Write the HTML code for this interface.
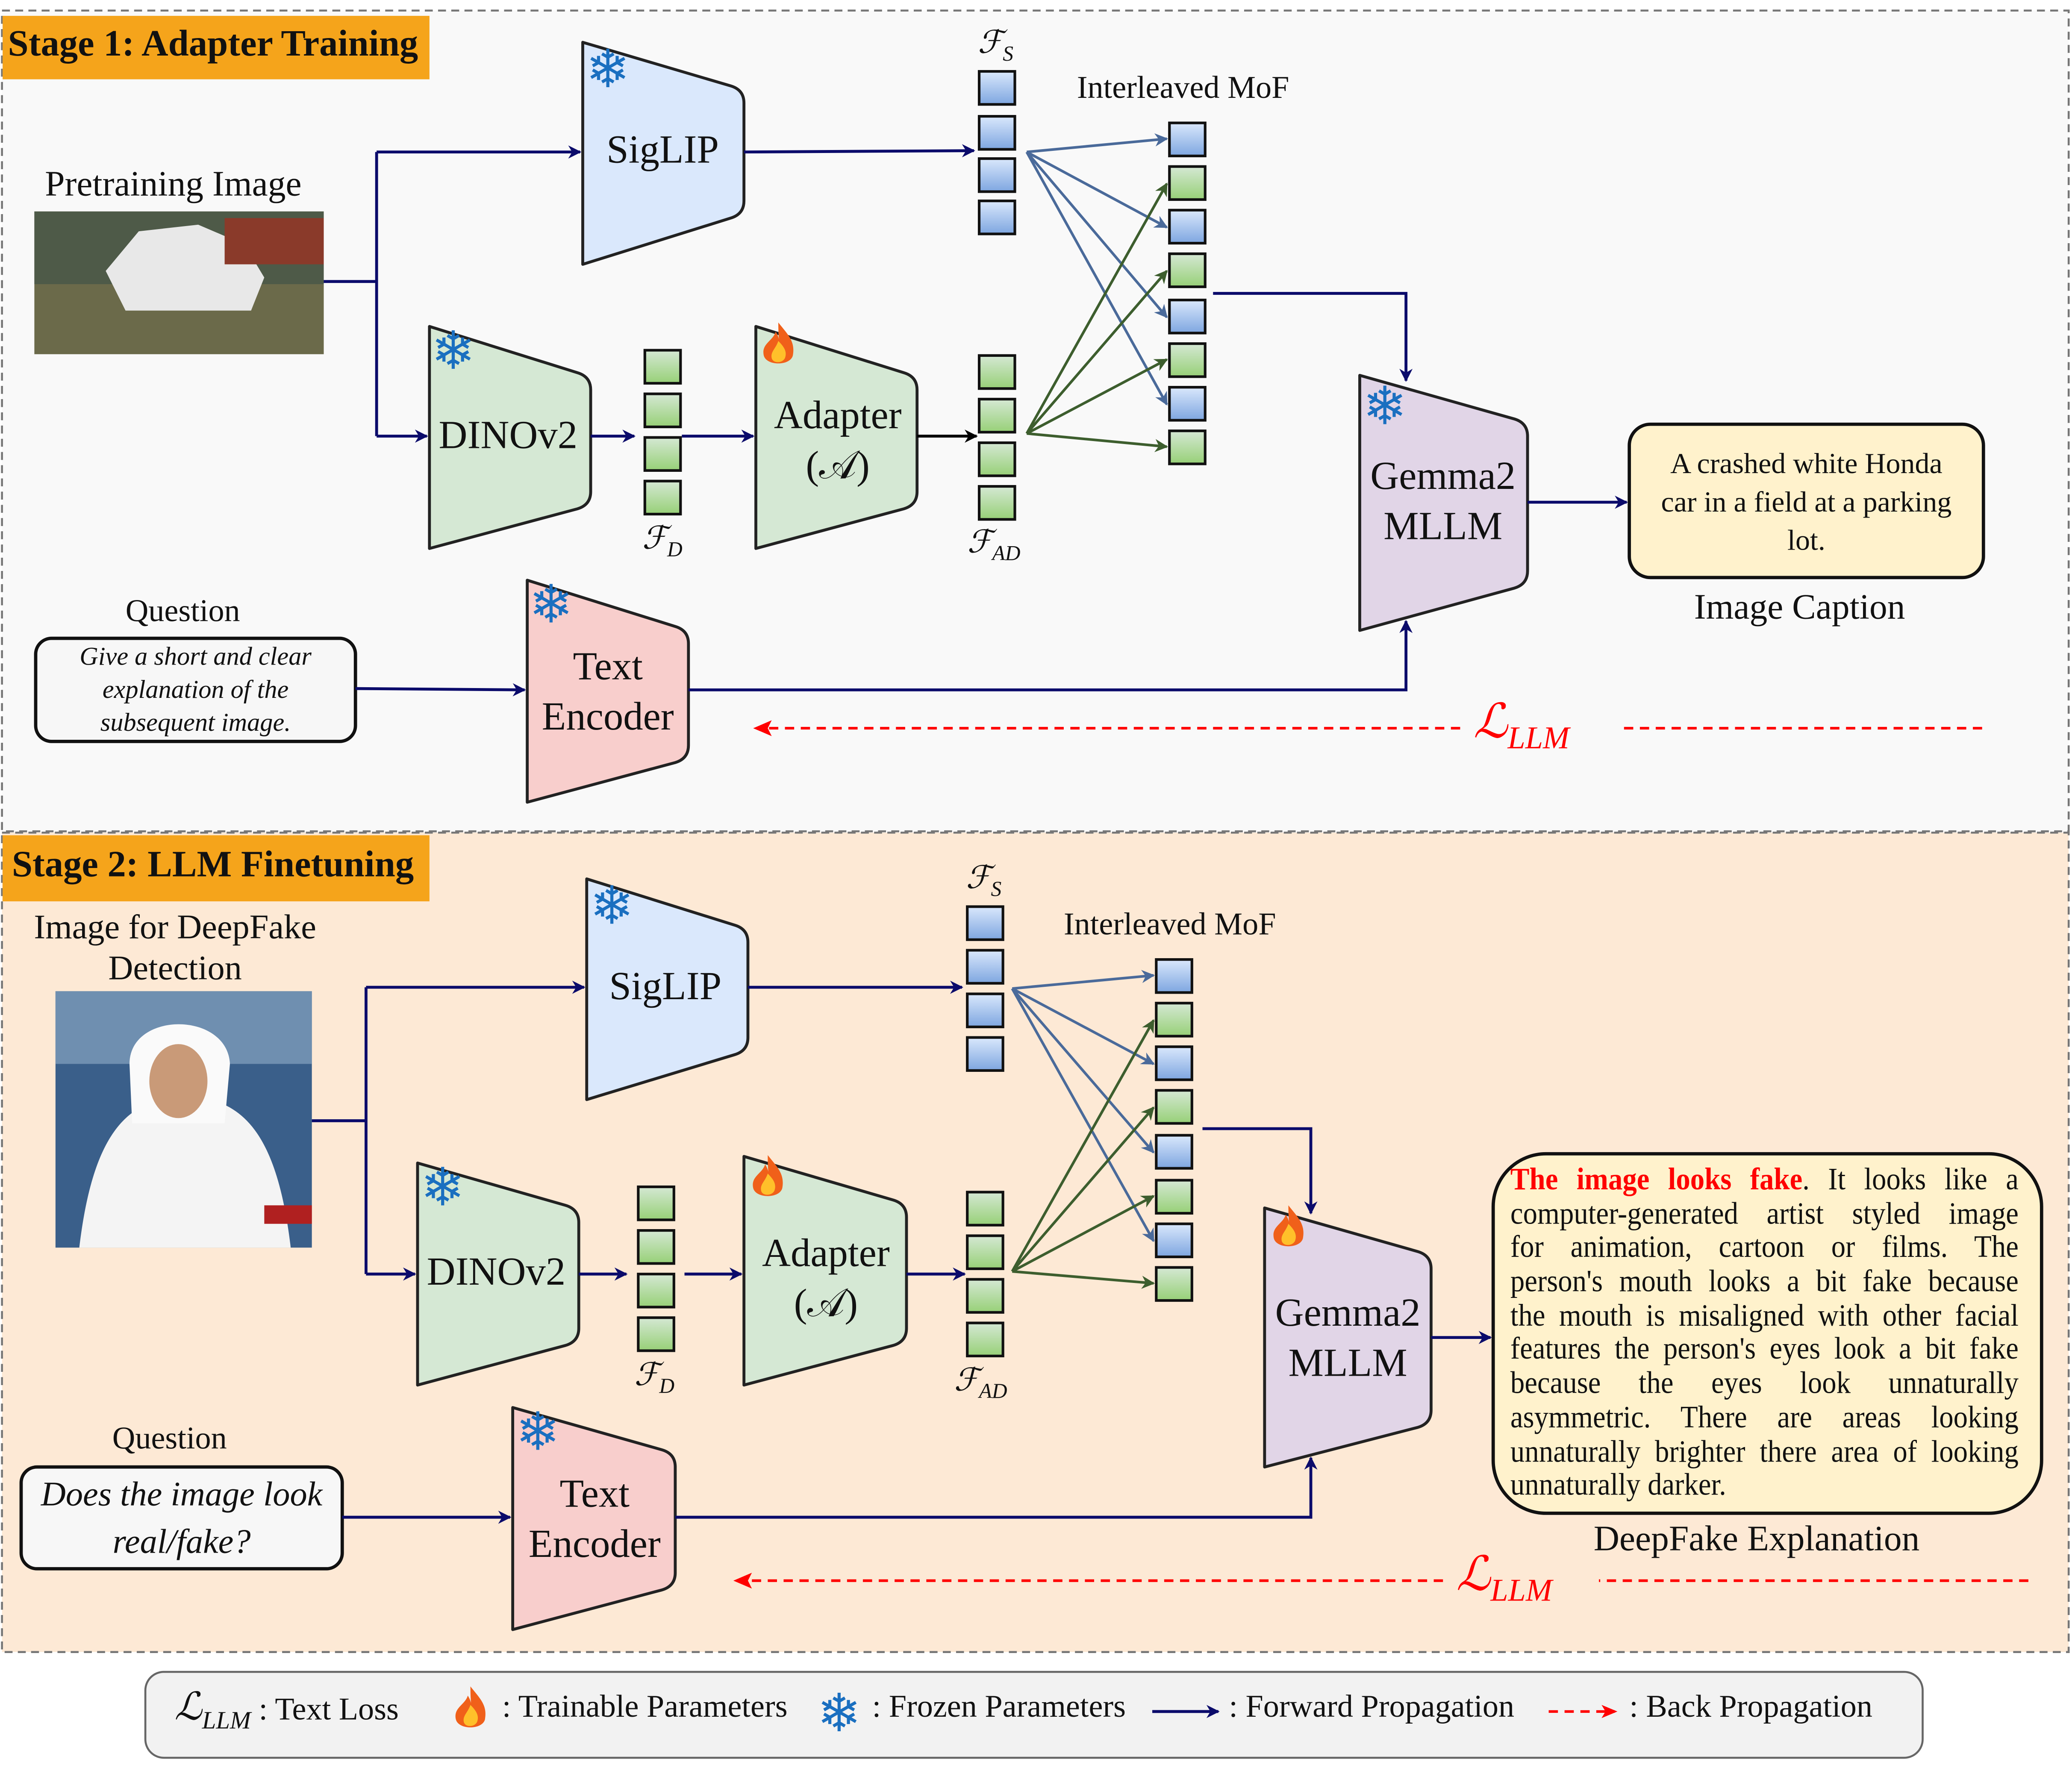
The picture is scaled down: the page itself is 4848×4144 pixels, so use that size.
<!DOCTYPE html>
<html><head><meta charset="utf-8"><style>
html,body{margin:0;padding:0;background:#fff;}
#wrap{width:4848px;height:4144px;overflow:hidden;position:relative;}
#c{position:absolute;left:0;top:0;width:1568px;height:1340px;transform:scale(3.0918,3.0925);transform-origin:0 0;font-family:"Liberation Serif",serif;}
.t{position:absolute;white-space:nowrap;color:#111;}
svg text{font-family:"DejaVu Sans",sans-serif;}
.ex{position:absolute;left:1143px;top:881px;width:418px;font-size:23.5px;line-height:25.7px;transform:scaleX(0.92);transform-origin:0 0;color:#111;}
.ex div{text-align:justify;text-align-last:justify;white-space:nowrap;height:25.7px;}
</style></head><body><div id="wrap"><div id="c">
<svg width="1568" height="1340" viewBox="0 0 1568 1340" xmlns="http://www.w3.org/2000/svg">
<defs>
<marker id="an" markerWidth="10" markerHeight="10" refX="9" refY="5" orient="auto" markerUnits="userSpaceOnUse"><path d="M0,0 L10,5 L0,10 L3,5z" fill="#0b0b6b"/></marker>
<marker id="ak" markerWidth="10" markerHeight="10" refX="9" refY="5" orient="auto" markerUnits="userSpaceOnUse"><path d="M0,0 L10,5 L0,10 L3,5z" fill="#000"/></marker>
<marker id="ab" markerWidth="10" markerHeight="10" refX="9" refY="5" orient="auto" markerUnits="userSpaceOnUse"><path d="M0,0 L10,5 L0,10 L3,5z" fill="#4a6a9a"/></marker>
<marker id="ag" markerWidth="10" markerHeight="10" refX="9" refY="5" orient="auto" markerUnits="userSpaceOnUse"><path d="M0,0 L10,5 L0,10 L3,5z" fill="#3d5e2e"/></marker>
<marker id="ar" markerWidth="12" markerHeight="10" refX="10" refY="5" orient="auto" markerUnits="userSpaceOnUse"><path d="M0,0 L12,5 L0,10 L3,5z" fill="#f00"/></marker>
<linearGradient id="gb" x1="0" y1="0" x2="0" y2="1"><stop offset="0" stop-color="#dae8fc"/><stop offset="1" stop-color="#7ea6e0"/></linearGradient>
<linearGradient id="gg" x1="0" y1="0" x2="0" y2="1"><stop offset="0" stop-color="#d5e8d4"/><stop offset="1" stop-color="#97d077"/></linearGradient>
<g id="flame"><path d="M0,-18 C7,-9 13,-4 11,7 C9,15 -9,15 -11,7 C-13,-2 -4,-4 -2,-11 C2,-5 0,0 0,-18z" fill="#f0601a"/><path d="M0,-4 C4,0 7,4 5,9 C3,13 -4,13 -5,9 C-6,4 -2,2 0,-4z" fill="#ffc02a"/></g>
</defs>
<rect x="1.5" y="8" width="1564" height="621" fill="#f9f9f9" stroke="#777" stroke-width="1.5" stroke-dasharray="6,4"/>
<rect x="1.5" y="630" width="1564" height="620" fill="#fde9d5" stroke="#777" stroke-width="1.5" stroke-dasharray="6,4"/>
<rect x="2" y="12" width="323" height="48" fill="#f5a41b"/>
<rect x="2" y="632" width="323" height="50" fill="#f5a41b"/>
<rect x="110" y="1265" width="1345" height="65" rx="14" fill="#f2f2f2" stroke="#666" stroke-width="1.5"/>

<rect x="26" y="160" width="219" height="108" fill="#6b6a4a"/>
<rect x="26" y="160" width="219" height="55" fill="#4e5a48"/>
<path d="M80,205 L105,175 L150,170 L185,185 L200,210 L190,235 L95,235z" fill="#e8e8e8"/>
<rect x="170" y="165" width="75" height="35" fill="#8a3a2a"/>
<rect x="42" y="750" width="194" height="194" fill="#3a5f8a"/>
<rect x="42" y="750" width="194" height="55" fill="#6f8fb0"/>
<path d="M60,944 C70,860 95,830 140,830 C185,830 210,860 220,944z" fill="#f4f4f4"/>
<path d="M98,805 C98,765 172,765 174,805 L170,850 L100,850z" fill="#fafafa"/>
<ellipse cx="135" cy="818" rx="22" ry="28" fill="#c99a78"/>
<rect x="200" y="912" width="36" height="14" fill="#b02020"/>

<g stroke="#222" stroke-width="2.2" stroke-linejoin="round">
<path d="M441,32 L553,65 Q563,68 563,78 L563,152 Q563,162 553,165 L441,200 Z" fill="#dae8fc"/>
<path d="M325,247 L437,282 Q447,285 447,295 L447,372 Q447,382 437,385 L325,415 Z" fill="#d5e8d4"/>
<path d="M572,247 L684,282 Q694,285 694,295 L694,372 Q694,382 684,385 L572,415 Z" fill="#d5e8d4"/>
<path d="M399,439 L511,474 Q521,477 521,487 L521,564 Q521,574 511,577 L399,607 Z" fill="#f8cecc"/>
<path d="M1029,284 L1146,317 Q1156,320 1156,330 L1156,432 Q1156,442 1146,445 L1029,477 Z" fill="#e1d5e7"/>
<path d="M444,665 L556,700 Q566,703 566,713 L566,785 Q566,795 556,798 L444,832 Z" fill="#dae8fc"/>
<path d="M316,880 L428,912 Q438,915 438,925 L438,1005 Q438,1015 428,1018 L316,1048 Z" fill="#d5e8d4"/>
<path d="M563,875 L676,908 Q686,911 686,921 L686,1005 Q686,1015 676,1018 L563,1048 Z" fill="#d5e8d4"/>
<path d="M388,1065 L501,1097 Q511,1100 511,1110 L511,1190 Q511,1200 501,1203 L388,1233 Z" fill="#f8cecc"/>
<path d="M957,914 L1073,947 Q1083,950 1083,960 L1083,1067 Q1083,1077 1073,1080 L957,1110 Z" fill="#e1d5e7"/>
</g>
<g stroke="#111" stroke-width="2.5">
<rect x="1233" y="321" width="268" height="116" rx="16" fill="#fff2cc"/>
<rect x="27" y="483" width="242" height="78" rx="12" fill="#f7f7f7"/>
<rect x="16" y="1110" width="243" height="77" rx="12" fill="#f7f7f7"/>
<rect x="1130" y="873" width="415" height="272" rx="40" fill="#fff2cc"/>
</g>

<g stroke="#111" stroke-width="2">
<rect x="741" y="54" width="27" height="25" fill="url(#gb)"/><rect x="741" y="88" width="27" height="25" fill="url(#gb)"/><rect x="741" y="120" width="27" height="25" fill="url(#gb)"/><rect x="741" y="152" width="27" height="25" fill="url(#gb)"/>
<rect x="488" y="265" width="27" height="25" fill="url(#gg)"/><rect x="488" y="298" width="27" height="25" fill="url(#gg)"/><rect x="488" y="331" width="27" height="25" fill="url(#gg)"/><rect x="488" y="364" width="27" height="25" fill="url(#gg)"/>
<rect x="741" y="269" width="27" height="25" fill="url(#gg)"/><rect x="741" y="302" width="27" height="25" fill="url(#gg)"/><rect x="741" y="335" width="27" height="25" fill="url(#gg)"/><rect x="741" y="368" width="27" height="25" fill="url(#gg)"/>
<rect x="885" y="93" width="27" height="25" fill="url(#gb)"/><rect x="885" y="126" width="27" height="25" fill="url(#gg)"/><rect x="885" y="159" width="27" height="25" fill="url(#gb)"/><rect x="885" y="192" width="27" height="25" fill="url(#gg)"/><rect x="885" y="227" width="27" height="25" fill="url(#gb)"/><rect x="885" y="260" width="27" height="25" fill="url(#gg)"/><rect x="885" y="293" width="27" height="25" fill="url(#gb)"/><rect x="885" y="326" width="27" height="25" fill="url(#gg)"/>
<rect x="732" y="686" width="27" height="25" fill="url(#gb)"/><rect x="732" y="719" width="27" height="25" fill="url(#gb)"/><rect x="732" y="752" width="27" height="25" fill="url(#gb)"/><rect x="732" y="785" width="27" height="25" fill="url(#gb)"/>
<rect x="483" y="898" width="27" height="25" fill="url(#gg)"/><rect x="483" y="931" width="27" height="25" fill="url(#gg)"/><rect x="483" y="964" width="27" height="25" fill="url(#gg)"/><rect x="483" y="997" width="27" height="25" fill="url(#gg)"/>
<rect x="732" y="902" width="27" height="25" fill="url(#gg)"/><rect x="732" y="935" width="27" height="25" fill="url(#gg)"/><rect x="732" y="968" width="27" height="25" fill="url(#gg)"/><rect x="732" y="1001" width="27" height="25" fill="url(#gg)"/>
<rect x="875" y="726" width="27" height="25" fill="url(#gb)"/><rect x="875" y="759" width="27" height="25" fill="url(#gg)"/><rect x="875" y="792" width="27" height="25" fill="url(#gb)"/><rect x="875" y="825" width="27" height="25" fill="url(#gg)"/><rect x="875" y="859" width="27" height="25" fill="url(#gb)"/><rect x="875" y="893" width="27" height="25" fill="url(#gg)"/><rect x="875" y="926" width="27" height="25" fill="url(#gb)"/><rect x="875" y="959" width="27" height="25" fill="url(#gg)"/>
</g>

<g fill="none" stroke="#0b0b6b" stroke-width="2.2">
<path d="M245,213 H285"/><path d="M285,115 V330"/>
<path d="M285,115 H439" marker-end="url(#an)"/><path d="M285,330 H323" marker-end="url(#an)"/>
<path d="M563,115 L737,114" marker-end="url(#an)"/>
<path d="M447,330 H480" marker-end="url(#an)"/>
<path d="M516,330 H570" marker-end="url(#an)"/>
<path d="M918,222 H1064 V288" marker-end="url(#an)"/>
<path d="M521,522 H1064 V470" marker-end="url(#an)"/>
<path d="M269,521 L397,522" marker-end="url(#an)"/>
<path d="M1156,380 H1231" marker-end="url(#an)"/>
<path d="M236,848 H277"/><path d="M277,747 V964"/>
<path d="M277,747 H442" marker-end="url(#an)"/><path d="M277,964 H314" marker-end="url(#an)"/>
<path d="M566,747 H728" marker-end="url(#an)"/>
<path d="M438,964 H474" marker-end="url(#an)"/>
<path d="M518,964 H561" marker-end="url(#an)"/>
<path d="M686,964 H730" marker-end="url(#an)"/>
<path d="M910,854 H992 V918" marker-end="url(#an)"/>
<path d="M511,1148 H992 V1103" marker-end="url(#an)"/>
<path d="M259,1148 L386,1148" marker-end="url(#an)"/>
<path d="M1083,1012 H1128" marker-end="url(#an)"/>
<path d="M872,1295 H922" marker-end="url(#an)"/>
</g>
<path d="M694,330 H739" stroke="#000" stroke-width="2.2" fill="none" marker-end="url(#ak)"/>
<g fill="none" stroke="#4a6a9a" stroke-width="2">
<path d="M777,115 L883,105" marker-end="url(#ab)"/><path d="M777,115 L883,172" marker-end="url(#ab)"/><path d="M777,115 L883,240" marker-end="url(#ab)"/><path d="M777,115 L883,306" marker-end="url(#ab)"/>
<path d="M766,748 L873,738" marker-end="url(#ab)"/><path d="M766,748 L873,805" marker-end="url(#ab)"/><path d="M766,748 L873,872" marker-end="url(#ab)"/><path d="M766,748 L873,939" marker-end="url(#ab)"/>
</g>
<g fill="none" stroke="#3d5e2e" stroke-width="2">
<path d="M777,328 L883,139" marker-end="url(#ag)"/><path d="M777,328 L883,205" marker-end="url(#ag)"/><path d="M777,328 L883,272" marker-end="url(#ag)"/><path d="M777,328 L883,338" marker-end="url(#ag)"/>
<path d="M766,962 L873,772" marker-end="url(#ag)"/><path d="M766,962 L873,838" marker-end="url(#ag)"/><path d="M766,962 L873,905" marker-end="url(#ag)"/><path d="M766,962 L873,971" marker-end="url(#ag)"/>
</g>
<g fill="none" stroke="#f00" stroke-width="2" stroke-dasharray="7,5">
<path d="M1500,551 H1225"/><path d="M1105,551 H575"/>
<path d="M1535,1196 H1210"/><path d="M1092,1196 H560"/>
<path d="M1172,1295 H1222" marker-end="url(#ar)"/>
</g>
<path d="M570,551 L584,545 L581,551 L584,557z" fill="#f00"/>
<path d="M555,1196 L569,1190 L566,1196 L569,1202z" fill="#f00"/>

<g fill="#1a6fc0" font-size="40" text-anchor="middle">
<text x="460" y="66">❄</text><text x="343" y="279">❄</text><text x="417" y="471">❄</text><text x="1048" y="321">❄</text>
<text x="463" y="699">❄</text><text x="335" y="912">❄</text><text x="407" y="1097">❄</text><text x="635" y="1310">❄</text>
</g>
<use href="#flame" x="589" y="262"/><use href="#flame" x="581" y="892"/><use href="#flame" x="975" y="930"/><use href="#flame" x="356" y="1294"/>
</svg>

<div class="t" style="left:6px;top:18px;font-size:28px;font-weight:bold;">Stage 1: Adapter Training</div>
<div class="t" style="left:9px;top:639px;font-size:28px;font-weight:bold;">Stage 2: LLM Finetuning</div>
<div class="t" style="left:34px;top:124px;font-size:27px;">Pretraining Image</div>
<div class="t" style="left:20px;top:686px;font-size:26px;width:225px;text-align:center;white-space:normal;line-height:31px;">Image for DeepFake Detection</div>
<div class="t" style="left:459px;top:97px;font-size:30px;">SigLIP</div>
<div class="t" style="left:461px;top:730px;font-size:30px;">SigLIP</div>
<div class="t" style="left:332px;top:313px;font-size:30px;">DINOv2</div>
<div class="t" style="left:323px;top:946px;font-size:30px;">DINOv2</div>
<div class="t" style="left:574px;top:296px;font-size:30px;width:120px;text-align:center;line-height:38px;">Adapter<br>(𝒜)</div>
<div class="t" style="left:565px;top:930px;font-size:30px;width:120px;text-align:center;line-height:38px;">Adapter<br>(𝒜)</div>
<div class="t" style="left:400px;top:486px;font-size:30px;width:120px;text-align:center;line-height:38px;">Text<br>Encoder</div>
<div class="t" style="left:390px;top:1112px;font-size:30px;width:120px;text-align:center;line-height:38px;">Text<br>Encoder</div>
<div class="t" style="left:1030px;top:342px;font-size:30px;width:124px;text-align:center;line-height:38px;">Gemma2<br>MLLM</div>
<div class="t" style="left:958px;top:975px;font-size:30px;width:124px;text-align:center;line-height:38px;">Gemma2<br>MLLM</div>
<div class="t" style="left:740px;top:18px;font-size:24px;font-style:italic;">ℱ<sub style="font-size:16px">S</sub></div>
<div class="t" style="left:731px;top:650px;font-size:24px;font-style:italic;">ℱ<sub style="font-size:16px">S</sub></div>
<div class="t" style="left:486px;top:393px;font-size:24px;font-style:italic;">ℱ<sub style="font-size:16px">D</sub></div>
<div class="t" style="left:480px;top:1026px;font-size:24px;font-style:italic;">ℱ<sub style="font-size:16px">D</sub></div>
<div class="t" style="left:732px;top:396px;font-size:24px;font-style:italic;">ℱ<sub style="font-size:16px">AD</sub></div>
<div class="t" style="left:722px;top:1030px;font-size:24px;font-style:italic;">ℱ<sub style="font-size:16px">AD</sub></div>
<div class="t" style="left:815px;top:54px;font-size:24px;">Interleaved MoF</div>
<div class="t" style="left:805px;top:687px;font-size:24px;">Interleaved MoF</div>
<div class="t" style="left:1250px;top:336px;font-size:22px;width:234px;text-align:center;white-space:normal;line-height:29px;">A crashed white Honda car in a field at a parking lot.</div>
<div class="t" style="left:1282px;top:444px;font-size:27px;">Image Caption</div>
<div class="t" style="left:1206px;top:1149px;font-size:27px;">DeepFake Explanation</div>
<div class="t" style="left:95px;top:450px;font-size:24px;">Question</div>
<div class="t" style="left:85px;top:1076px;font-size:24px;">Question</div>
<div class="t" style="left:48px;top:485px;font-size:19.5px;font-style:italic;width:200px;text-align:center;white-space:normal;line-height:25px;">Give a short and clear explanation of the subsequent image.</div>
<div class="t" style="left:20px;top:1113px;font-size:26px;font-style:italic;width:235px;text-align:center;white-space:normal;line-height:36px;">Does the image look real/fake?</div>
<div class="ex">
<div><b style="color:#f00">The image looks fake</b>. It looks like a</div>
<div>computer-generated artist styled image</div>
<div>for animation, cartoon or films. The</div>
<div>person's mouth looks a bit fake because</div>
<div>the mouth is misaligned with other facial</div>
<div>features the person's eyes look a bit fake</div>
<div>because the eyes look unnaturally</div>
<div>asymmetric. There are areas looking</div>
<div>unnaturally brighter there area of looking</div>
<div style="text-align-last:left;">unnaturally darker.</div>
</div>
<div class="t" style="left:1115px;top:525px;font-size:36px;font-style:italic;color:#f00;">ℒ<sub style="font-size:24px">LLM</sub></div>
<div class="t" style="left:1102px;top:1170px;font-size:36px;font-style:italic;color:#f00;">ℒ<sub style="font-size:24px">LLM</sub></div>
<div class="t" style="left:132px;top:1274px;font-size:24px;"><i style="font-size:29px">ℒ<sub style="font-size:19px">LLM</sub></i> : Text Loss</div>
<div class="t" style="left:380px;top:1279px;font-size:24px;">: Trainable Parameters</div>
<div class="t" style="left:660px;top:1279px;font-size:24px;">: Frozen Parameters</div>
<div class="t" style="left:930px;top:1279px;font-size:24px;">: Forward Propagation</div>
<div class="t" style="left:1233px;top:1279px;font-size:24px;">: Back Propagation</div>
</div></div></body></html>
